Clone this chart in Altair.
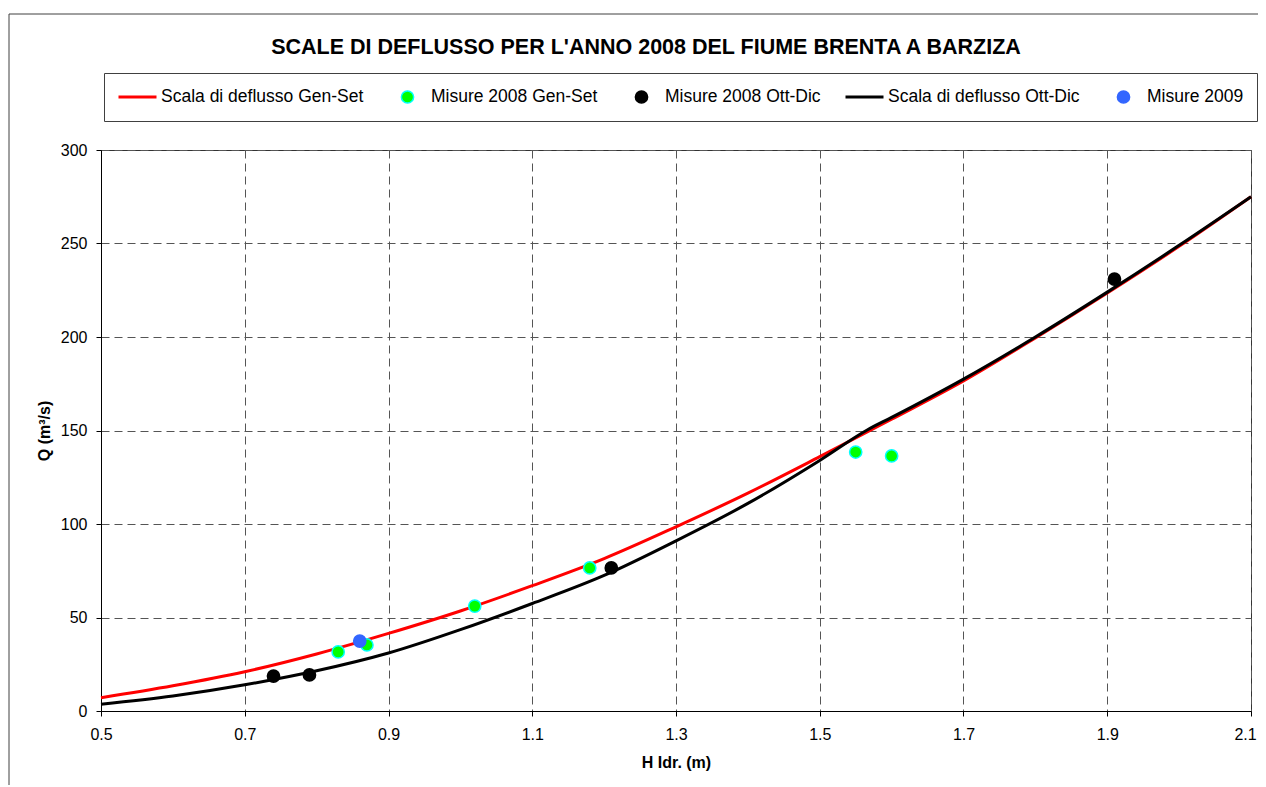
import altair as alt
import pandas as pd

# ---------------- data ----------------
S1 = "Scala di deflusso Gen-Set"
S2 = "Misure 2008 Gen-Set"
S3 = "Misure 2008 Ott-Dic"
S4 = "Scala di deflusso Ott-Dic"
S5 = "Misure 2009"
SERIES = [S1, S2, S3, S4, S5]

H_GENSET = [0.5, 0.6, 0.7, 0.8, 0.9, 1.0, 1.1, 1.2, 1.3, 1.4, 1.5, 1.6, 1.7, 1.8, 1.9, 2.0, 2.1]
Q_GENSET = [7.1, 13.5, 21.0, 30.5, 41.5, 53.5, 67.0, 81.5, 98.5, 116.5, 136.0, 156.0, 176.5, 199.5, 223.5, 248.5, 275.0]

H_OTTDIC = [0.5, 0.6, 0.7, 0.8, 0.9, 1.0, 1.1, 1.2, 1.3, 1.4, 1.5, 1.566, 1.6, 1.7, 1.8, 1.9, 2.0, 2.1]
Q_OTTDIC = [3.6, 8.0, 14.0, 21.5, 31.0, 43.5, 57.5, 72.5, 91.0, 111.0, 134.0, 150.3, 157.0, 177.5, 200.0, 224.0, 249.0, 275.0]

H_MIS_GENSET = [0.83, 0.87, 1.02, 1.18, 1.55, 1.60]
Q_MIS_GENSET = [31.6, 35.3, 56.1, 76.5, 138.5, 136.4]
H_MIS_OTTDIC = [0.74, 0.79, 1.21, 1.91]
Q_MIS_OTTDIC = [18.7, 19.3, 76.5, 231.0]
H_MIS_2009 = [0.86]
Q_MIS_2009 = [37.4]

X_TICKS = [0.5, 0.7, 0.9, 1.1, 1.3, 1.5, 1.7, 1.9, 2.1]
Y_TICKS = [0, 50, 100, 150, 200, 250, 300]

STROKES = ["#ff0000", "#00ffff", "#000000", "#000000", "#3366ff"]
FILLS = ["#ff0000", "#00ff00", "#000000", "#000000", "#3366ff"]
SHAPES = ["stroke", "circle", "circle", "stroke", "circle"]
SIZES = [1444, 150, 150, 1444, 150]
WIDTHS = [3, 1.5, 1.5, 3, 1.5]

TITLE = "SCALE DI DEFLUSSO PER L'ANNO 2008 DEL FIUME BRENTA A BARZIZA"
FONT = "Liberation Sans"

# ---------------- tables ----------------
red_df = pd.DataFrame({"H": H_GENSET, "Q": Q_GENSET, "series": S1})
black_df = pd.DataFrame({"H": H_OTTDIC, "Q": Q_OTTDIC, "series": S4})
pts_df = pd.concat([
    pd.DataFrame({"H": H_MIS_GENSET, "Q": Q_MIS_GENSET, "series": S2}),
    pd.DataFrame({"H": H_MIS_OTTDIC, "Q": Q_MIS_OTTDIC, "series": S3}),
    pd.DataFrame({"H": H_MIS_2009, "Q": Q_MIS_2009, "series": S5}),
], ignore_index=True)
pts_df["order"] = range(len(pts_df))

stroke_scale = alt.Scale(type="ordinal", domain=SERIES, range=STROKES)
fill_scale = alt.Scale(type="ordinal", domain=SERIES, range=FILLS)
shape_scale = alt.Scale(type="ordinal", domain=SERIES, range=SHAPES)
size_scale = alt.Scale(type="ordinal", domain=SERIES, range=SIZES)
width_scale = alt.Scale(type="ordinal", domain=SERIES, range=WIDTHS)


def make_legend():
    return alt.Legend(
        title=None,
        orient="none",
        legendX=3,
        legendY=-77,
        direction="horizontal",
        columns=5,
        padding=13,
        clipHeight=22,
        strokeColor="#404040",
        fillColor="white",
        labelFont=FONT,
        labelFontSize=17.5,
        labelColor="black",
        labelLimit=400,
        labelOffset=3,
        columnPadding=23,
        symbolOpacity=1,
    )


x_enc = alt.X(
    "H:Q",
    scale=alt.Scale(domain=[0.5, 2.1], nice=False, zero=False),
    axis=alt.Axis(
        title="H Idr. (m)", values=X_TICKS, format=".1f",
        labelFlush=False, labelOverlap=False,
        labelOffset={"condition": {"test": "datum.value > 2.05", "value": -6}, "value": 0},
        labelFontSize=16, labelPadding=10, tickSize=5,
        titleFontSize=16, titleFontWeight="bold", titlePadding=12,
    ),
)
y_enc = alt.Y(
    "Q:Q",
    scale=alt.Scale(domain=[0, 300], nice=False),
    axis=alt.Axis(
        title="Q (m³/s)", values=Y_TICKS,
        labelFontSize=16, labelPadding=9, tickSize=5,
        titleFontSize=16, titleFontWeight="bold", titlePadding=8,
    ),
)


def line_layer(df):
    return alt.Chart(df).mark_line(interpolate="monotone").encode(
        x=x_enc, y=y_enc,
        stroke=alt.Stroke("series:N", scale=stroke_scale, legend=make_legend()),
        strokeWidth=alt.StrokeWidth("series:N", scale=width_scale, legend=make_legend()),
    )


red_line = line_layer(red_df)
black_line = line_layer(black_df)
points = alt.Chart(pts_df).mark_point(filled=True, opacity=1).encode(
    x=x_enc, y=y_enc,
    fill=alt.Fill("series:N", scale=fill_scale, legend=make_legend()),
    stroke=alt.Stroke("series:N", scale=stroke_scale, legend=make_legend()),
    shape=alt.Shape("series:N", scale=shape_scale, legend=make_legend()),
    size=alt.Size("series:N", scale=size_scale, legend=make_legend()),
    strokeWidth=alt.StrokeWidth("series:N", scale=width_scale, legend=make_legend()),
    order=alt.Order("order:Q"),
)

# outer chart frame (left and top edges; the rest lies outside the picture)
one = pd.DataFrame({"a": [0]})
frame_left = alt.Chart(one).mark_rule(stroke="#404040", strokeWidth=1).encode(
    x=alt.value(-92), y=alt.value(-136), y2=alt.value(900)
)
frame_top = alt.Chart(one).mark_rule(stroke="#404040", strokeWidth=1).encode(
    x=alt.value(-92), x2=alt.value(2000), y=alt.value(-136)
)

chart = alt.layer(red_line, black_line, points, frame_left, frame_top).properties(
    width=1150,
    height=561,
    autosize="none",
    padding={"left": 93, "top": 142, "right": 7, "bottom": 74},
    title=alt.TitleParams(
        TITLE, fontSize=21.5, fontWeight="bold", font=FONT, color="black",
        anchor="middle", frame="group", dx=-30, offset=-45,
    ),
).configure(
    font=FONT,
    background="white",
).configure_view(
    stroke="#333333", strokeWidth=1,
).configure_axis(
    labelFont=FONT, titleFont=FONT, labelColor="black", titleColor="black",
    domainColor="black", tickColor="black", domainWidth=1,
    gridColor="#555555", gridDash=[8, 5], gridWidth=1,
)

chart.save("out.html", embed_options={"renderer": "svg", "actions": False})
